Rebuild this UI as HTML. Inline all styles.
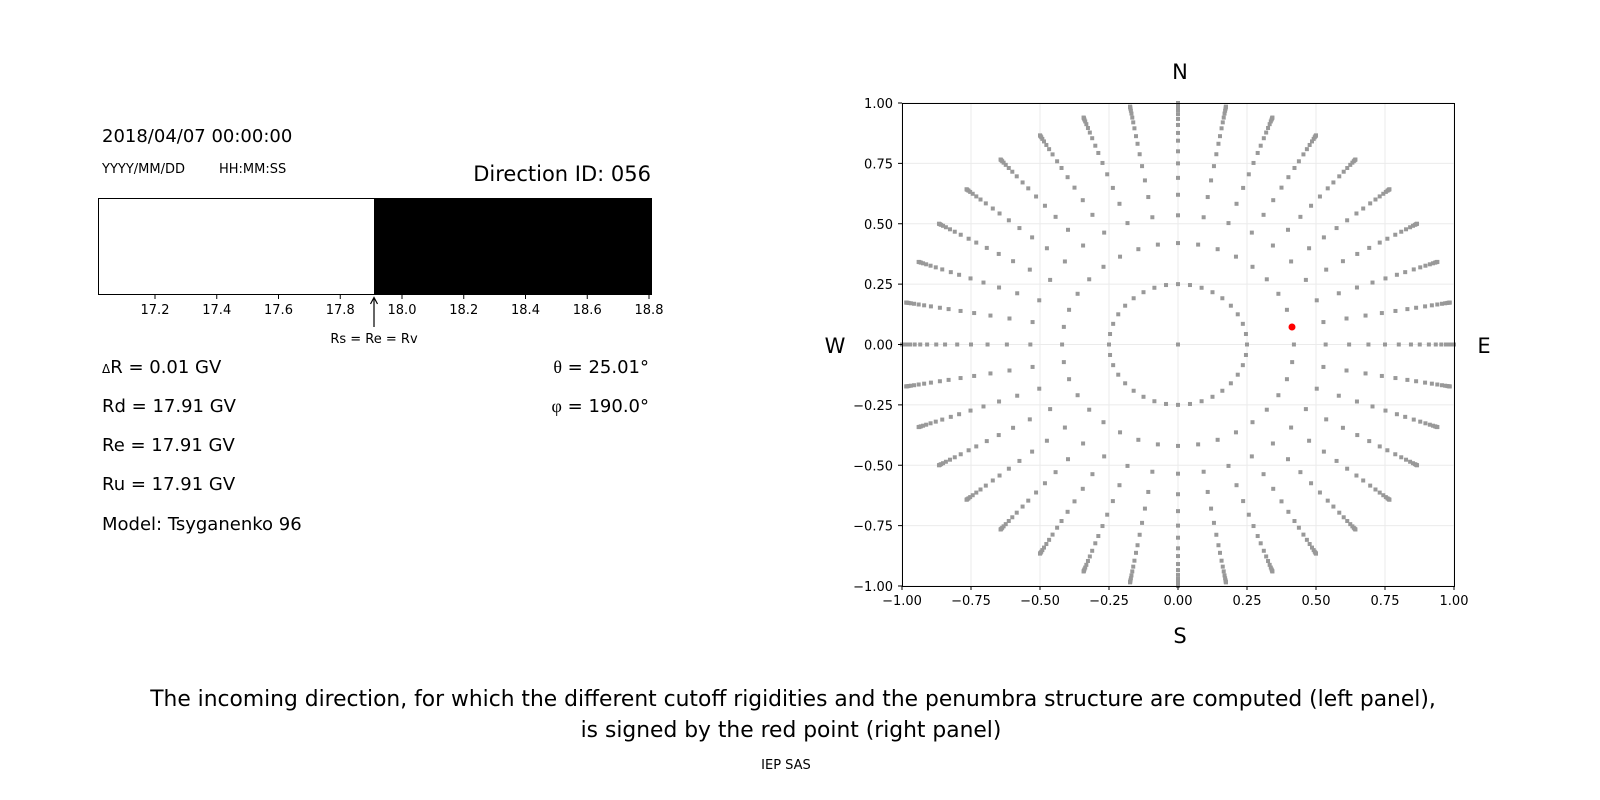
<!DOCTYPE html>
<html><head><meta charset="utf-8"><style>
html,body{margin:0;background:#fff;overflow:hidden;}
svg{display:block;font-family:"DejaVu Sans","Liberation Sans",sans-serif;}
</style></head><body>
<svg id="s" width="1600" height="800" viewBox="0 0 1600 800" xmlns="http://www.w3.org/2000/svg">
<rect width="1600" height="800" fill="#fff"/>
<text x="102" y="142" font-size="18">2018/04/07 00:00:00</text>
<text x="102" y="173" font-size="13">YYYY/MM/DD</text>
<text x="219" y="173" font-size="13">HH:MM:SS</text>
<text x="651" y="181" font-size="21" text-anchor="end">Direction ID: 056</text>
<rect x="98.5" y="198.5" width="553" height="96" fill="#fff" stroke="#000" stroke-width="1"/>
<rect x="374" y="198" width="278" height="97" fill="#000"/>
<g font-size="13" text-anchor="middle" id="bt"></g>
<line x1="374" y1="327" x2="374" y2="299" stroke="#000" stroke-width="1.2"/>
<path d="M370.5 304 L374 297.5 L377.5 304" fill="none" stroke="#000" stroke-width="1.2"/>
<text x="374" y="343" font-size="13" text-anchor="middle">Rs = Re = Rv</text>
<g font-size="18">
<text x="102" y="373"><tspan font-size="12">Δ</tspan>R = 0.01 GV</text>
<text x="102" y="412">Rd = 17.91 GV</text>
<text x="102" y="451">Re = 17.91 GV</text>
<text x="102" y="490">Ru = 17.91 GV</text>
<text x="102" y="530">Model: Tsyganenko 96</text>
<text x="649" y="373" text-anchor="end"><tspan font-family="Liberation Serif,serif">θ</tspan> = 25.01°</text>
<text x="649" y="412" text-anchor="end"><tspan font-family="Liberation Serif,serif">φ</tspan> = 190.0°</text>
</g>
<g id="grid"></g>
<g id="dots" fill="#999"></g>
<circle cx="1292" cy="327" r="3.5" fill="#f00"/>
<rect x="902.5" y="103.5" width="552" height="483" fill="none" stroke="#000" stroke-width="1"/>
<g id="ticks" font-size="13"></g>
<g font-size="21" text-anchor="middle">
<text x="1180" y="79">N</text>
<text x="1180" y="643">S</text>
<text x="835" y="353">W</text>
<text x="1484" y="353">E</text>
</g>
<g font-size="21.8" text-anchor="middle">
<text x="793" y="706">The incoming direction, for which the different cutoff rigidities and the penumbra structure are computed (left panel),</text>
<text x="791" y="737">is signed by the red point (right panel)</text>
</g>
<text x="786" y="769" font-size="13" text-anchor="middle">IEP SAS</text>
</svg>
<script>
var NS="http://www.w3.org/2000/svg";
function el(p,t,a,txt){var e=document.createElementNS(NS,t);for(var k in a)e.setAttribute(k,a[k]);if(txt!=null)e.textContent=txt;document.getElementById(p).appendChild(e);}
for(var i=1;i<=9;i++){var v=17+0.2*i;var x=93.25+(v-17)/0.2*61.75;
el("bt","line",{x1:x,y1:295,x2:x,y2:299,stroke:"#000"});
el("bt","text",{x:x,y:314},v.toFixed(1));}
function X(v){return 902+(v+1)*276;}
function Y(v){return 103+(1-v)*241.5;}
function f(v){var s=Math.abs(v).toFixed(2);return v<0?"\u2212"+s:s;}
var tv=[-1,-0.75,-0.5,-0.25,0,0.25,0.5,0.75,1];
tv.forEach(function(v){
 el("grid","line",{x1:X(v),y1:103,x2:X(v),y2:586,stroke:"#ebebeb","stroke-width":1});
 el("grid","line",{x1:902,y1:Y(v),x2:1454,y2:Y(v),stroke:"#ebebeb","stroke-width":1});
 el("ticks","line",{x1:X(v),y1:586,x2:X(v),y2:590,stroke:"#000"});
 el("ticks","text",{x:X(v),y:605,"text-anchor":"middle"},f(v));
 el("ticks","line",{x1:898,y1:Y(v),x2:902,y2:Y(v),stroke:"#000"});
 el("ticks","text",{x:893,y:Y(v)+5,"text-anchor":"end"},f(v));
});
var rs=[0.25,0.42,0.535,0.62,0.69,0.75,0.80,0.844,0.876,0.909,0.934,0.954,0.971,0.983,0.991,0.996,0.999,1.0];
el("dots","rect",{x:X(0)-2,y:Y(0)-2,width:4,height:4});
for(var a=0;a<360;a+=10){var t=a*Math.PI/180;
 rs.forEach(function(r){var x=X(r*Math.sin(t)),y=Y(r*Math.cos(t));
 el("dots","rect",{x:x-2,y:y-2,width:4,height:4});});}
</script>
</body></html>
